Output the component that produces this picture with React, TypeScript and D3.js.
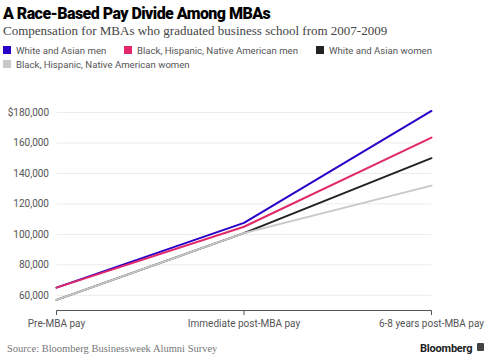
import React from "react";
import * as d3 from "d3";

const categories = ["Pre-MBA pay", "Immediate post-MBA pay", "6-8 years post-MBA pay"];
const seriesNames = [
  "White and Asian men",
  "Black, Hispanic, Native American men",
  "White and Asian women",
  "Black, Hispanic, Native American women",
];
const whiteAsianMen = [65000, 107500, 181000];
const minorityMen = [65000, 105000, 163500];
const whiteAsianWomen = [57000, 100800, 150000];
const minorityWomen = [57000, 100800, 132000];
const yTicks = [60000, 80000, 100000, 120000, 140000, 160000, 180000];
const colors = ["#2a00c8", "#e0286a", "#222222", "#c8c8c8"];

const W = 497;
const H = 360;
const sans = "Roboto, 'Noto Sans', Arial, sans-serif";
const serif = "'Liberation Serif', 'DejaVu Serif', serif";

export default function App() {
  const x = d3.scalePoint<string>().domain(categories).range([56.5, 431.5]);
  const y = d3.scaleLinear().domain([50000, 180000]).range([310.5, 112.5]);
  const series = [whiteAsianWomen, whiteAsianMen, minorityMen, minorityWomen];
  const seriesColors = [colors[2], colors[0], colors[1], colors[3]];
  const line = d3
    .line<number>()
    .x((_, i) => x(categories[i]) as number)
    .y((d) => y(d))
    .curve(d3.curveLinear);
  const fmt = (v: number) => (v === 180000 ? "$" : "") + d3.format(",")(v);

  const legend = [
    { x: 3, y: 50, i: 0 },
    { x: 124, y: 50, i: 1 },
    { x: 316, y: 50, i: 2 },
    { x: 3, y: 64, i: 3 },
  ];

  return (
    <svg width={W} height={H} style={{ position: "absolute", left: 0, top: 0, background: "#fff" }}>
      <text x={3} y={19} fontFamily={sans} fontWeight={900} fontSize={16} letterSpacing={-0.55} fill="#000">
        A Race-Based Pay Divide Among MBAs
      </text>
      <text x={3} y={34.5} fontFamily={serif} fontSize={13} fill="#444">
        Compensation for MBAs who graduated business school from 2007-2009
      </text>
      {legend.map((l) => (
        <g key={l.i}>
          <rect x={l.x} y={l.y - 4} width={8} height={8} fill={colors[l.i]} />
          <text x={l.x + 13} y={l.y + 3.5} fontFamily={sans} fontSize={9.6} fill="#555">
            {seriesNames[l.i]}
          </text>
        </g>
      ))}
      {yTicks.map((t) => (
        <g key={t}>
          <line x1={56.5} x2={431.5} y1={y(t)} y2={y(t)} stroke="#ebebeb" strokeWidth={1} />
          <text x={49} y={y(t) + 3.5} textAnchor="end" fontFamily={sans} fontSize={10} fill="#555">
            {fmt(t)}
          </text>
        </g>
      ))}
      <line x1={56.5} x2={431.5} y1={310.5} y2={310.5} stroke="#555" strokeWidth={1} />
      {categories.map((c) => (
        <g key={c}>
          <line x1={x(c)} x2={x(c)} y1={310.5} y2={315} stroke="#555" strokeWidth={1} />
          <text x={x(c)} y={327} textAnchor="middle" fontFamily={sans} fontSize={10} fill="#555">
            {c}
          </text>
        </g>
      ))}
      {series.map((s, i) => (
        <path
          key={i}
          d={line(s) || ""}
          fill="none"
          stroke={seriesColors[i]}
          strokeWidth={2}
          strokeLinejoin="round"
          strokeLinecap="round"
        />
      ))}
      <text x={7} y={352} fontFamily={serif} fontSize={10.5} fill="#777">
        Source: Bloomberg Businessweek Alumni Survey
      </text>
      <text x={420} y={352} fontFamily={sans} fontWeight={700} fontSize={11} letterSpacing={-0.2} fill="#222">
        Bloomberg
      </text>
      <rect x={477} y={343} width={7} height={8} fill="#444" rx={1} />
    </svg>
  );
}
